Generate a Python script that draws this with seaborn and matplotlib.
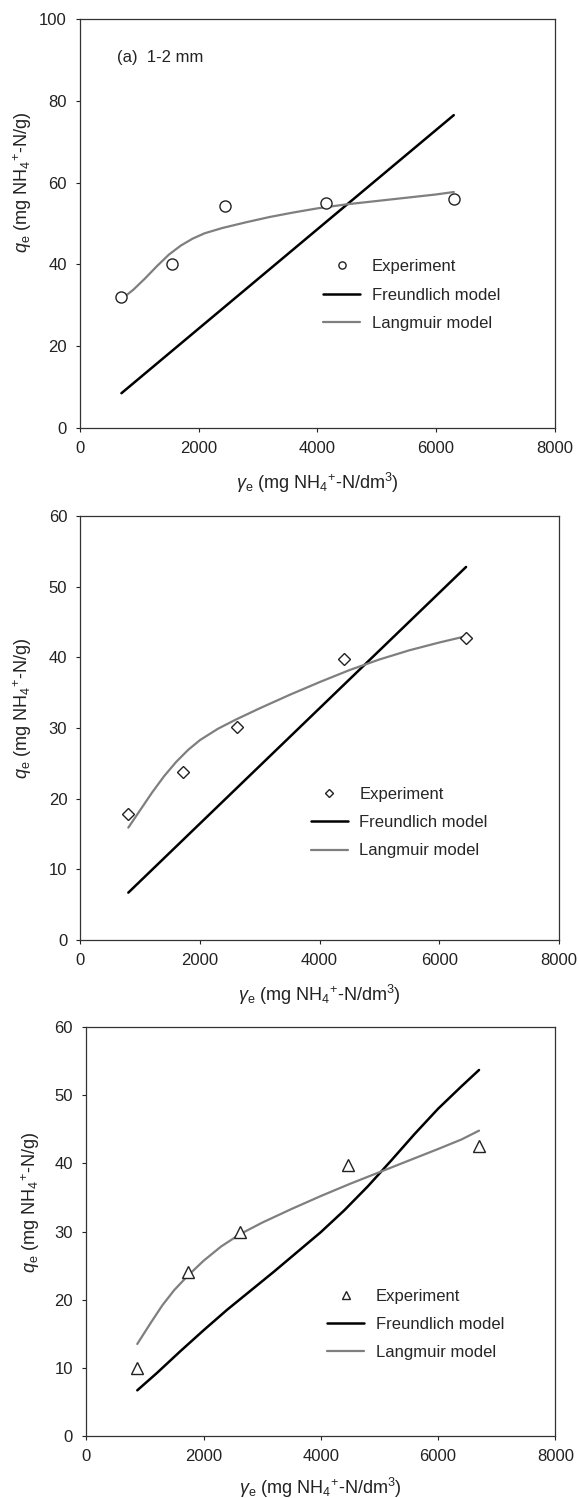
import matplotlib
matplotlib.use("Agg")
import matplotlib.pyplot as plt
import seaborn as sns
import pandas as pd

# Panel (a) 1-2 mm
exp1_x = [700, 1560, 2450, 4150, 6300]
exp1_y = [32, 40, 54.2, 55, 56]
fr1_x = [700, 6300]
fr1_y = [8.5, 76.5]
la1_x = [700, 900, 1100, 1300, 1500, 1700, 1900, 2100, 2400, 2800, 3200, 3600, 4000,
         4500, 5000, 5500, 6000, 6300]
la1_y = [31.5, 33.8, 36.6, 39.6, 42.4, 44.6, 46.3, 47.6, 48.9, 50.3, 51.6, 52.7, 53.7,
         54.7, 55.5, 56.3, 57.1, 57.7]

# Panel 2
exp2_x = [800, 1720, 2620, 4400, 6450]
exp2_y = [17.8, 23.8, 30.2, 39.8, 42.8]
fr2_x = [800, 6450]
fr2_y = [6.7, 52.8]
la2_x = [800, 1000, 1200, 1400, 1600, 1800, 2000, 2300, 2600, 3000, 3500, 4000, 4500,
         5000, 5500, 6000, 6450]
la2_y = [15.9, 18.4, 20.9, 23.2, 25.2, 26.9, 28.3, 29.9, 31.2, 32.8, 34.7, 36.5, 38.2,
         39.7, 41.0, 42.1, 43.0]

# Panel 3
exp3_x = [870, 1730, 2620, 4470, 6700]
exp3_y = [10, 24, 30, 39.8, 42.6]
fr3_x = [870, 1200, 1600, 2000, 2400, 2800, 3200, 3600, 4000, 4400, 4800, 5200, 5600,
         6000, 6400, 6700]
fr3_y = [6.7, 9.2, 12.4, 15.5, 18.5, 21.3, 24.1, 27.0, 29.9, 33.1, 36.6, 40.4, 44.3,
         48.0, 51.3, 53.7]
la3_x = [870, 1100, 1300, 1500, 1730, 2000, 2300, 2620, 3000, 3500, 4000, 4500, 5000,
         5500, 6000, 6400, 6700]
la3_y = [13.5, 16.6, 19.2, 21.4, 23.5, 25.7, 27.8, 29.6, 31.3, 33.3, 35.2, 37.0, 38.7,
         40.4, 42.1, 43.5, 44.8]

sns.set_theme(style="ticks")
plt.rcParams['font.family'] = ['Liberation Sans', 'DejaVu Sans']
plt.rcParams['mathtext.fontset'] = 'custom'
plt.rcParams['mathtext.rm'] = 'Liberation Sans'
plt.rcParams['mathtext.it'] = 'Liberation Sans:italic'

XLABEL = r'$\it{\gamma}_\mathrm{e}$ (mg NH$_4$$^{+}$-N/dm$^3$)'
YLABEL = r'$\it{q}_\mathrm{e}$ (mg NH$_4$$^{+}$-N/g)'

panels = [
    dict(ex=exp1_x, ey=exp1_y, fx=fr1_x, fy=fr1_y, lx=la1_x, ly=la1_y, marker='o',
         rect=[0.138, 0.7143, 0.820, 0.273], ymax=100, yticks=range(0, 101, 20),
         leg=(0.513, 0.325), ylab=(-0.12, 0.60), xlab=(0.5, -0.135), note='(a)  1-2 mm'),
    dict(ex=exp2_x, ey=exp2_y, fx=fr2_x, fy=fr2_y, lx=la2_x, ly=la2_y, marker='D',
         rect=[0.139, 0.3725, 0.826, 0.283], ymax=60, yticks=range(0, 61, 10),
         leg=(0.482, 0.277), ylab=(-0.12, 0.547), xlab=(0.5, -0.13), note=None),
    dict(ex=exp3_x, ey=exp3_y, fx=fr3_x, fy=fr3_y, lx=la3_x, ly=la3_y, marker='^',
         rect=[0.149, 0.0414, 0.810, 0.2730], ymax=60, yticks=range(0, 61, 10),
         leg=(0.514, 0.273), ylab=(-0.119, 0.572), xlab=(0.5, -0.126), note=None),
]

fig = plt.figure(figsize=(5.79, 14.98), dpi=100)

for p in panels:
    ax = fig.add_axes(p['rect'])
    exp_df = pd.DataFrame({'x': p['ex'], 'y': p['ey']})
    fr_df = pd.DataFrame({'x': p['fx'], 'y': p['fy']})
    la_df = pd.DataFrame({'x': p['lx'], 'y': p['ly']})

    ms = 6.5 if p['marker'] == 'D' else 8
    ax.plot(exp_df['x'], exp_df['y'], linestyle='none', marker=p['marker'], markersize=ms,
            markerfacecolor='white', markeredgecolor='#222222', markeredgewidth=1.0,
            label='Experiment', zorder=4)
    sns.lineplot(data=fr_df, x='x', y='y', ax=ax, color='black', linewidth=1.8,
                 label='Freundlich model', sort=False, estimator=None)
    sns.lineplot(data=la_df, x='x', y='y', ax=ax, color='#7f7f7f', linewidth=1.6,
                 label='Langmuir model', sort=False, estimator=None)

    ax.set_xlim(0, 8000)
    ax.set_ylim(0, p['ymax'])
    ax.set_xticks(range(0, 8001, 2000))
    ax.set_yticks(list(p['yticks']))
    ax.tick_params(axis='both', labelsize=12, colors='#222222', length=3, width=0.8,
                   direction='out', pad=6.5)
    for s in ax.spines.values():
        s.set_color('#333333')
        s.set_linewidth(0.9)
    ax.set_xlabel(XLABEL, fontsize=13, color='#222222', va='center')
    ax.xaxis.set_label_coords(*p['xlab'])
    ax.set_ylabel(YLABEL, fontsize=13, color='#222222', va='center')
    ax.yaxis.set_label_coords(*p['ylab'])

    ax.legend(loc='center left', bbox_to_anchor=p['leg'], frameon=False,
              fontsize=12, handlelength=2.2, handletextpad=0.7,
              labelspacing=0.8, markerscale=0.65, borderpad=0, borderaxespad=0)
    if p['note']:
        ax.text(0.078, 0.905, p['note'], transform=ax.transAxes, fontsize=12,
                color='#222222', va='center', ha='left')

fig.savefig('out.png', dpi=100, facecolor='white')
